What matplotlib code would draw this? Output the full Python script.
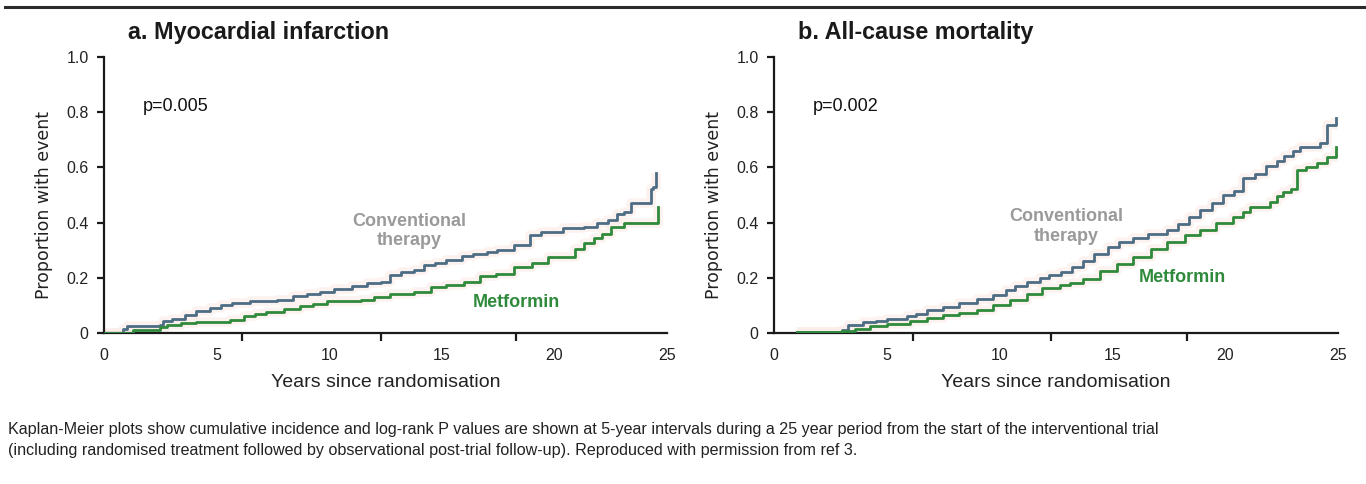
import matplotlib
matplotlib.use('Agg')
import matplotlib.pyplot as plt
from matplotlib.lines import Line2D

plt.rcParams['font.family'] = ['Liberation Sans', 'DejaVu Sans']

# a. Myocardial infarction
mi_conv_x = [0, 0.85, 1.0, 2.5, 2.6, 3.0, 3.6, 4.1, 4.7, 5.2, 5.7, 6.5, 7.7, 8.4, 9.0, 9.6,
             10.2, 11.0, 11.7, 12.3, 12.7, 13.2, 13.75, 14.2, 14.7, 15.2, 15.9, 16.4, 17.0,
             17.45, 18.2, 18.9, 19.4, 20.4, 21.3, 21.9, 22.4, 22.8, 23.1, 23.4, 24.3, 24.4, 24.5]
mi_conv_y = [0, 0.016, 0.025, 0.03, 0.045, 0.05, 0.065, 0.08, 0.09, 0.10, 0.11, 0.115, 0.12,
             0.135, 0.14, 0.15, 0.16, 0.17, 0.18, 0.185, 0.21, 0.22, 0.23, 0.245, 0.255, 0.265,
             0.28, 0.285, 0.295, 0.30, 0.32, 0.355, 0.365, 0.38, 0.385, 0.40, 0.41, 0.43, 0.44,
             0.47, 0.52, 0.53, 0.58]
mi_met_x = [0, 1.3, 2.5, 2.8, 3.4, 4.1, 5.6, 6.2, 6.7, 7.2, 8.0, 8.7, 9.3, 9.9, 11.4, 12.0,
            12.7, 13.75, 14.5, 15.2, 16.0, 16.7, 17.4, 18.2, 19.0, 19.7, 20.9, 21.3, 21.75,
            22.1, 22.5, 23.1, 24.6]
mi_met_y = [0, 0.01, 0.02, 0.03, 0.035, 0.04, 0.047, 0.06, 0.07, 0.077, 0.088, 0.098, 0.105,
            0.115, 0.12, 0.13, 0.14, 0.15, 0.165, 0.175, 0.185, 0.205, 0.215, 0.24, 0.255,
            0.275, 0.305, 0.325, 0.345, 0.36, 0.385, 0.40, 0.455]

# b. All-cause mortality
acm_conv_x = [1.0, 3.0, 3.3, 3.95, 4.5, 5.0, 5.9, 6.3, 6.8, 7.5, 8.2, 9.0, 9.7, 10.3, 10.7,
              11.2, 11.8, 12.2, 12.7, 13.2, 13.7, 14.2, 14.8, 15.3, 15.9, 16.6, 17.4, 17.9,
              18.4, 18.9, 19.4, 19.9, 20.4, 20.8, 21.3, 21.8, 22.3, 22.6, 23.0, 23.3, 24.2,
              24.5, 24.9]
acm_conv_y = [0.005, 0.01, 0.03, 0.041, 0.045, 0.05, 0.06, 0.07, 0.083, 0.095, 0.11, 0.125,
              0.138, 0.155, 0.17, 0.186, 0.2, 0.21, 0.22, 0.24, 0.26, 0.285, 0.31, 0.33,
              0.345, 0.36, 0.375, 0.395, 0.42, 0.445, 0.47, 0.50, 0.515, 0.56, 0.575, 0.605,
              0.625, 0.64, 0.66, 0.675, 0.69, 0.755, 0.78]
acm_met_x = [1.0, 3.0, 3.6, 4.26, 5.0, 6.03, 6.8, 7.5, 8.2, 8.98, 9.7, 10.46, 11.2, 11.9,
             12.68, 13.1, 13.7, 14.45, 15.2, 15.93, 16.7, 17.4, 18.2, 18.9, 19.6, 20.36, 20.8,
             21.1, 22.0, 22.3, 22.58, 22.9, 23.2, 23.6, 24.08, 24.5, 24.9]
acm_met_y = [0.005, 0.008, 0.015, 0.024, 0.032, 0.042, 0.055, 0.065, 0.073, 0.083, 0.1, 0.12,
             0.14, 0.162, 0.175, 0.18, 0.195, 0.225, 0.25, 0.276, 0.305, 0.331, 0.355, 0.373,
             0.40, 0.421, 0.44, 0.458, 0.475, 0.495, 0.512, 0.52, 0.59, 0.60, 0.615, 0.639,
             0.675]

titles = ['a. Myocardial infarction', 'b. All-cause mortality']
pvals = ['p=0.005', 'p=0.002']
xtick_labels = [0, 5, 10, 15, 20, 25]
xtick_marks = [0, 6.15, 12.3, 18.3, 25]
yticks = [0, 0.2, 0.4, 0.6, 0.8, 1.0]
ytick_labels = ['0', '0.2', '0.4', '0.6', '0.8', '1.0']
conv_label_pos = [(13.55, 0.37), (12.95, 0.385)]
met_label_pos = [(18.3, 0.11), (18.1, 0.20)]

caption = ('Kaplan-Meier plots show cumulative incidence and log-rank P values are shown at '
           '5-year intervals during a 25 year period from the start of the interventional trial\n'
           '(including randomised treatment followed by observational post-trial follow-up). '
           'Reproduced with permission from ref 3.')

conv_col = '#4d6d84'
met_col = '#2f8a3c'
halo_col = '#fbe8e2'

fig = plt.figure(figsize=(13.66, 4.84), dpi=100)
ax1 = fig.add_axes([104/1366, 151/484, 563/1366, 276/484])
ax2 = fig.add_axes([774/1366, 151/484, 564/1366, 276/484])

series = [(mi_conv_x, mi_conv_y, mi_met_x, mi_met_y),
          (acm_conv_x, acm_conv_y, acm_met_x, acm_met_y)]

for i, ax in enumerate([ax1, ax2]):
    cx, cy, mx, my = series[i]
    for xs, ys, col in [(cx, cy, conv_col), (mx, my, met_col)]:
        ax.plot(xs, ys, drawstyle='steps-post', color=halo_col, lw=7, alpha=0.5,
                solid_capstyle='butt', zorder=1)
        ax.plot(xs, ys, drawstyle='steps-post', color=col, lw=2.0, zorder=3)

    ax.set_xlim(0, 25)
    ax.set_ylim(0, 1.0)
    for s in ['top', 'right']:
        ax.spines[s].set_visible(False)
    for s in ['left', 'bottom']:
        ax.spines[s].set_linewidth(1.6)
        ax.spines[s].set_color('#1a1a1a')

    ax.set_xticks(xtick_labels)
    ax.set_xticklabels([str(v) for v in xtick_labels])
    ax.set_xticks(xtick_marks, minor=True)
    ax.tick_params(axis='x', which='major', length=0, pad=11, labelsize=11.5, labelcolor='#222222')
    ax.tick_params(axis='x', which='minor', length=6, width=1.6, color='#1a1a1a')
    ax.set_yticks(yticks)
    ax.set_yticklabels(ytick_labels)
    ax.tick_params(axis='y', length=5, width=1.6, color='#1a1a1a', pad=6,
                   labelsize=11.5, labelcolor='#222222')

    ax.text(0.5, -0.18, 'Years since randomisation', transform=ax.transAxes,
            ha='center', va='center', fontsize=14, color='#222222')
    ax.text(-0.1066, 0.464, 'Proportion with event', transform=ax.transAxes,
            ha='center', va='center', rotation=90, fontsize=12.5, color='#222222',
            family=['DejaVu Sans'])
    ax.text(0.0426, 1.09, titles[i], transform=ax.transAxes, ha='left', va='center',
            fontsize=16.8, fontweight='bold', color='#1a1a1a')
    ax.text(1.74, 0.82, pvals[i], ha='left', va='center', fontsize=13, color='#111111')
    ax.text(conv_label_pos[i][0], conv_label_pos[i][1], 'Conventional\ntherapy',
            ha='center', va='center', fontsize=13, fontweight='bold', color='#9a9a9a',
            linespacing=1.2, zorder=4)
    ax.text(met_label_pos[i][0], met_label_pos[i][1], 'Metformin', ha='center', va='center',
            fontsize=13, fontweight='bold', color=met_col, zorder=4)

# top rule
fig.add_artist(Line2D([5/1366, 1.0], [1 - 7/484, 1 - 7/484], transform=fig.transFigure,
                      color='#2b2b2b', lw=2.2))

fig.text(8/1366, 1 - 440/484, caption, ha='left', va='center', fontsize=11.65,
         color='#222222', linespacing=1.45)

fig.savefig('out.png', dpi=100)
